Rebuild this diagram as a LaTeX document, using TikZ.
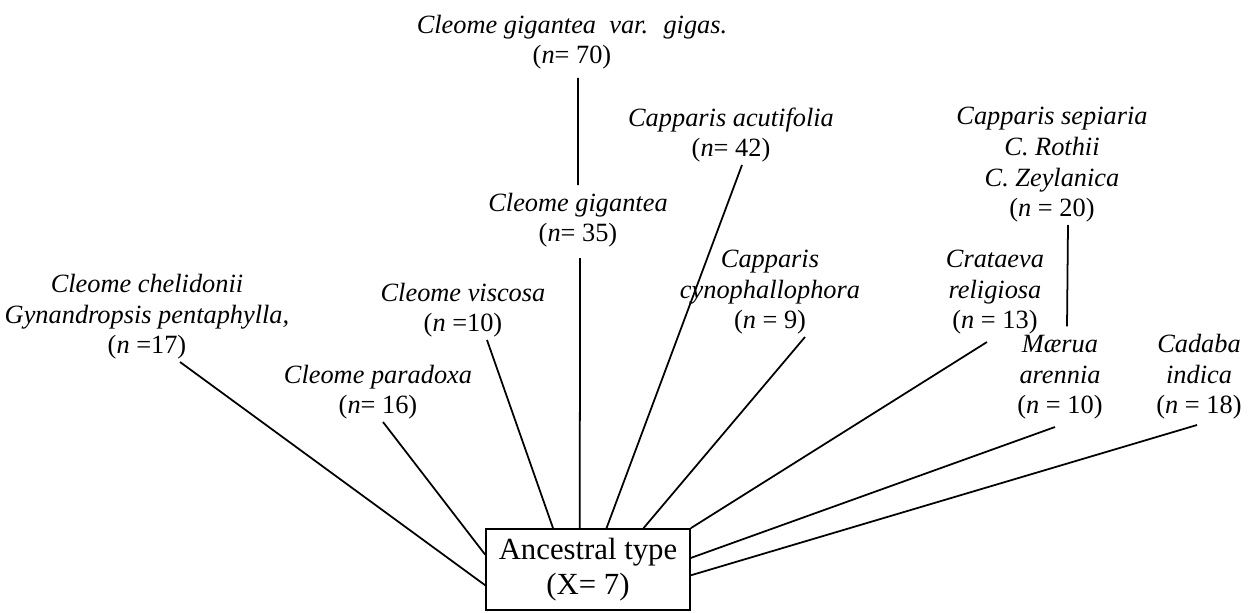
\documentclass[tikz,border=0pt]{standalone}
\usepackage{fontspec}
\setmainfont{Liberation Serif}
\usetikzlibrary{calc}

\newcommand{\nval}[1]{\textup{(}\textit{n}\textup{#1)}}

\begin{document}
\begin{tikzpicture}[x=0.02cm, y=-0.02cm, line width=1pt,
  species/.style={align=center, inner sep=1pt, anchor=south,
    font=\fontsize{15}{17.5}\selectfont\itshape}]

\useasboundingbox (0,0) rectangle (1257,612);

% ancestral box
\node[draw, minimum width=4.08cm, minimum height=1.62cm, align=center,
  font=\fontsize{17.5}{20}\selectfont] (anc) at (588,569.5) {Ancestral type\\(X= 7)};

% derived species
\node[species] (chel) at (147,362) {Cleome chelidonii\\Gynandropsis pentaphylla,\\\nval{ =17}};
\node[species] (para) at (378,422) {Cleome paradoxa\\\nval{= 16}};
\node[species] (visc) at (463,340) {Cleome viscosa\\\nval{ =10}};
\node[species] (gig) at (578,250) {Cleome gigantea\\\nval{= 35}};
\node[species] (gigas) at (572,72) {Cleome gigantea \ var. \ gigas.\\\nval{= 70}};
\node[species] (acut) at (731,165) {Capparis acutifolia\\\nval{= 42}};
\node[species] (cyno) at (770,337) {Capparis\\cynophallophora\\\nval{ = 9}};
\node[species] (crat) at (995,337) {Crataeva\\religiosa\\\nval{ = 13}};
\node[species] (sepi) at (1052,225) {Capparis sepiaria\\C. Rothii\\C. Zeylanica\\\nval{ = 20}};
\node[species] (maer) at (1060,422) {Mærua\\arennia\\\nval{ = 10}};
\node[species] (cada) at (1199,422) {Cadaba\\indica\\\nval{ = 18}};

% connections
\draw ([xshift=0.66cm]chel.south) -- ($(anc.north west)!0.69!(anc.south west)$);
\draw ([xshift=0.1cm]para.south) -- ($(anc.north west)!0.32!(anc.south west)$);
\draw ([xshift=0.48cm]visc.south) -- ($(anc.north west)!0.33!(anc.north east)$);
\draw ([xshift=0.04cm,yshift=-0.16cm]gig.south) -- ($(anc.north west)!0.46!(anc.north east)$);
\draw ([xshift=0.12cm,yshift=-0.12cm]gigas.south) -- ([yshift=0.1cm]gig.north);
\draw ([xshift=0.22cm]acut.south) -- ($(anc.north west)!0.59!(anc.north east)$);
\draw ([xshift=0.7cm]cyno.south) -- ($(anc.north west)!0.77!(anc.north east)$);
\draw ([xshift=-0.16cm,yshift=-0.1cm]crat.south) -- (anc.north east);
\draw ([xshift=0.32cm]sepi.south) -- ([xshift=0.14cm,yshift=0.12cm]maer.north);
\draw ([xshift=-0.1cm,yshift=-0.1cm]maer.south) -- ($(anc.north east)!0.36!(anc.south east)$);
\draw ([xshift=-0.04cm,yshift=-0.06cm]cada.south) -- ($(anc.north east)!0.57!(anc.south east)$);

\end{tikzpicture}
\end{document}
